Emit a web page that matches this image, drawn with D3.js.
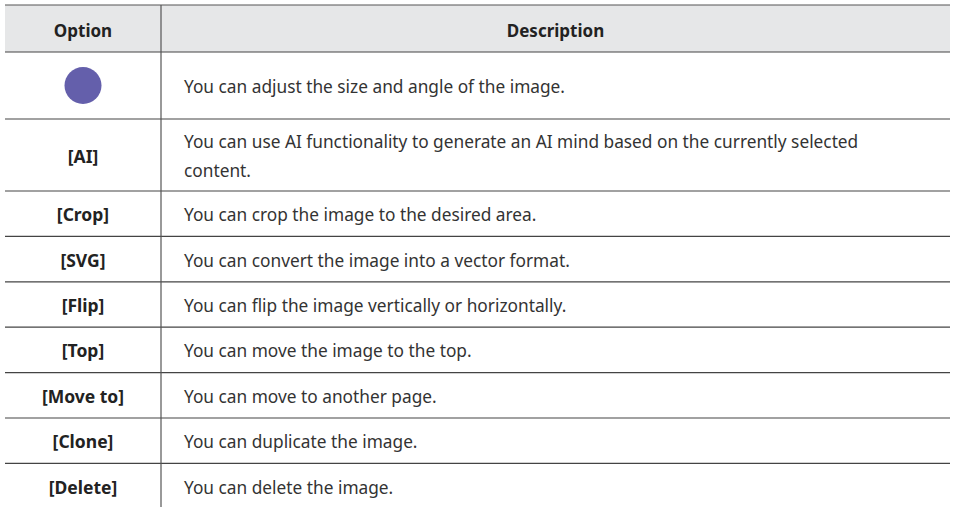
<!DOCTYPE html>
<html><head><meta charset="utf-8">
<script src="https://cdn.jsdelivr.net/npm/d3@7"></script>
<style>
html,body{margin:0;padding:0;background:#fff;}
svg{display:block;}
</style></head>
<body>
<svg id="chart" width="955" height="507"></svg>
<script>
const headers = ["Option", "Description"];
const options = ["●", "[AI]", "[Crop]", "[SVG]", "[Flip]", "[Top]", "[Move to]", "[Clone]", "[Delete]"];
const descriptions = [
  "You can adjust the size and angle of the image.",
  "You can use AI functionality to generate an AI mind based on the currently selected\ncontent.",
  "You can crop the image to the desired area.",
  "You can convert the image into a vector format.",
  "You can flip the image vertically or horizontally.",
  "You can move the image to the top.",
  "You can move to another page.",
  "You can duplicate the image.",
  "You can delete the image."
];

(function() {
const svg = d3.select("#chart");
const fontFam = "'Noto Sans', 'Open Sans', sans-serif";
const left = 5, right = 950, divider = 161, tableTop = 5;
const headerH = 47;
const rowH = options.map((o, i) => i === 0 ? 67 : (descriptions[i].includes("\n") ? 72 : 45.4));
const ys = [tableTop + headerH];
rowH.forEach(h => ys.push(ys[ys.length - 1] + h));

// header background
svg.append("rect").attr("x", left).attr("y", tableTop).attr("width", right - left).attr("height", headerH).attr("fill", "#e6e7e8");
svg.append("line").attr("x1", left).attr("x2", right).attr("y1", tableTop).attr("y2", tableTop).attr("stroke", "#555").attr("stroke-width", 1.2);

const hx = [(left + divider) / 2, (divider + right) / 2];
svg.selectAll("text.h").data(headers).enter().append("text")
  .attr("class", "h").attr("x", (d, i) => hx[i]).attr("y", tableTop + headerH / 2 + 8)
  .attr("text-anchor", "middle").attr("font-family", fontFam).attr("font-weight", "bold")
  .attr("font-size", 17).attr("fill", "#222").text(d => d);

// row separators
svg.selectAll("line.sep").data(ys.slice(0, ys.length - 1)).enter().append("line")
  .attr("class", "sep").attr("x1", left).attr("x2", right).attr("y1", d => d).attr("y2", d => d)
  .attr("stroke", "#444").attr("stroke-width", 1.2);

// divider
svg.append("line").attr("x1", divider).attr("x2", divider).attr("y1", tableTop).attr("y2", 507)
  .attr("stroke", "#555").attr("stroke-width", 1.2);

// rows
const rows = svg.selectAll("g.row").data(options.map((o, i) => ({o, d: descriptions[i], y0: ys[i], h: rowH[i]})))
  .enter().append("g").attr("class", "row");

rows.each(function(r, i) {
  const g = d3.select(this);
  const cy = r.y0 + r.h / 2;
  if (i === 0) {
    g.append("circle").attr("cx", hx[0]).attr("cy", cy).attr("r", 18.5).attr("fill", "#645fab");
  } else {
    g.append("text").attr("x", hx[0]).attr("y", cy + 7.5).attr("text-anchor", "middle")
      .attr("font-family", fontFam).attr("font-weight", "bold").attr("font-size", 17.5)
      .attr("fill", "#222").text(r.o);
  }
  const lines = r.d.split("\n");
  const lh = 29;
  const start = cy - (lines.length - 1) * lh / 2 + 7.5;
  g.selectAll("text.desc").data(lines).enter().append("text").attr("class", "desc")
    .attr("x", 184).attr("y", (d, j) => start + j * lh)
    .attr("font-family", fontFam).attr("font-size", 17.3)
    .attr("fill", "#333").text(d => d);
});
})();
</script>
</body></html>
